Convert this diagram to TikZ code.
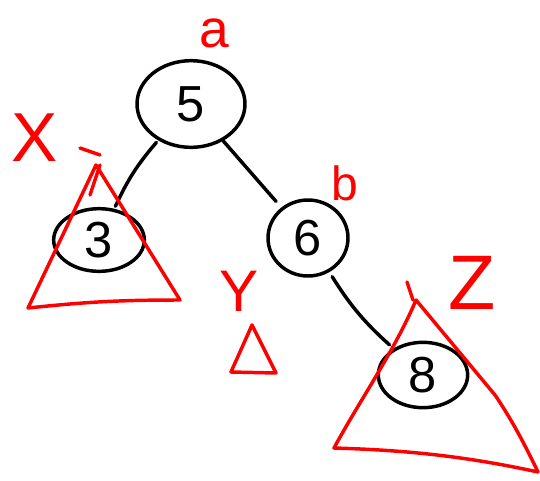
\documentclass[tikz,border=0pt]{standalone}
\usepackage{fontspec}
\setmainfont{Liberation Sans}
\usetikzlibrary{shapes.geometric}
\begin{document}
\begin{tikzpicture}[x=0.75pt,y=-0.75pt,
  tnode/.style={draw=black,line width=2.6pt,ellipse,inner sep=0pt,font=\fontsize{38}{38}\selectfont},
  edge/.style={draw=black,line width=2.6pt,line cap=round},
  redline/.style={draw=red,line width=2.6pt,line join=round,line cap=round},
  rlab/.style={text=red,inner sep=0pt}]
\useasboundingbox (0,0) rectangle (540,480);
% tree nodes
\node[tnode,minimum width=81pt,minimum height=65pt] (n5) at (191,104) {5};
\node[tnode,minimum width=68pt,minimum height=47pt] (n3) at (99,240) {3};
\node[tnode,minimum width=60pt,minimum height=57pt] (n6) at (308,238) {6};
\node[tnode,minimum width=67pt,minimum height=49pt] (n8) at (423,375) {8};
% edges
\draw[edge,shorten >=2pt,shorten <=2pt] (n5) to[bend right=8] (n3);
\draw[edge,shorten >=6pt] (n5) -- (n6);
\draw[edge,shorten <=4pt,shorten >=4pt] (n6) to[bend right=8] (n8);
% red triangles
\coordinate (xa) at (96,165);
\coordinate (xl) at (28,308);
\coordinate (xr) at (180,300);
\draw[redline] (xa) -- (xr) to[bend right=3] (xl) -- cycle;
\coordinate (ya) at (252,325);
\coordinate (yl) at (231,372);
\coordinate (yr) at (276,373);
\draw[redline] (ya) -- (yr) -- (yl) -- cycle;
\coordinate (za) at (416,300);
\coordinate (zl) at (334,448);
\coordinate (zr) at (538,472);
\draw[redline] (za) -- (495,395) .. controls (512,420) and (525,445) .. (zr) .. controls (460,455) and (400,450) .. (zl) .. controls (360,400) and (395,350) .. (za);
% small red strokes
\coordinate (s1b) at (100,155);
\coordinate (s1c) at (80,148);
\coordinate (s1d) at (90,195);
\coordinate (s1e) at (100,165);
\draw[redline] (s1c) -- (s1b);
\draw[redline] (s1d) -- (s1e);
\coordinate (s2a) at (407,282);
\coordinate (s2b) at (413,300);
\draw[redline] (s2a) -- (s2b);
% red labels
\node[rlab,font=\fontsize{40}{40}\selectfont] (la) at (214,33) {a};
\node[rlab,font=\fontsize{52}{52}\selectfont] (lx) at (35,138) {X};
\node[rlab,font=\fontsize{36}{36}\selectfont] (lb) at (345,183) {b};
\node[rlab,font=\fontsize{44}{44}\selectfont] (ly) at (239,291) {Y};
\node[rlab,font=\fontsize{58}{58}\selectfont] (lz) at (472,283) {Z};
\end{tikzpicture}
\end{document}
